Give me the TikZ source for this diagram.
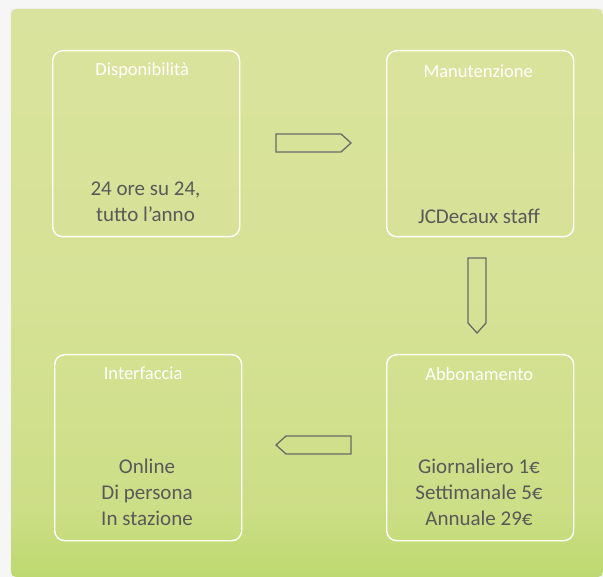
\documentclass[tikz,border=0pt]{standalone}
\usepackage{fontspec}
\setmainfont{Carlito}
\definecolor{pagebg}{RGB}{246,246,246}
\definecolor{paneltop}{RGB}{218,227,157}
\definecolor{panelmid}{RGB}{214,226,150}
\definecolor{panellow}{RGB}{204,222,134}
\definecolor{panelbot}{RGB}{190,217,112}
\definecolor{bodytext}{RGB}{89,89,89}
\definecolor{arrowline}{RGB}{105,105,105}
\pgfdeclareverticalshading{panelshade}{100bp}{%
  color(0bp)=(panelbot); color(25bp)=(panelbot); color(31bp)=(panellow); color(50bp)=(panelmid); color(75bp)=(paneltop); color(100bp)=(paneltop)}
\begin{document}
\begin{tikzpicture}[x=1pt,y=-1pt,
  card/.style={draw=white,line width=1.4pt,rounded corners=10pt,minimum width=187pt,minimum height=186pt,inner sep=0pt,anchor=north west},
  cardtitle/.style={text=white,font=\fontsize{18.5}{22}\selectfont,anchor=center},
  cardbody/.style={text=bodytext,font=\fontsize{21}{26}\selectfont,align=center,anchor=center},
  flowarrow/.style={draw=arrowline,line width=1.3pt,line join=miter}]
\useasboundingbox (0,0) rectangle (603,577);
\fill[pagebg] (0,0) rectangle (603,577);
\fill[gray!10] (10,8) rectangle (603,577);
\path[shading=panelshade,rounded corners=5pt]
  (11,9) -- (603,9) -- (603,577) -- (11,577) -- cycle;
% cards
\node[card] (disp) at (52,50) {};
\node[card] (manu) at (386,50) {};
\node[card] (inter) at (54,354) {};
\node[card] (abbo) at (386,354) {};
% titles
\node[cardtitle] (dispT) at ([xshift=-4pt,yshift=-21pt]disp.north) {Disponibilità};
\node[cardtitle] (manuT) at ([xshift=-2pt,yshift=-21pt]manu.north) {Manutenzione};
\node[cardtitle] (interT) at ([xshift=-5pt,yshift=-19pt]inter.north) {Interfaccia};
\node[cardtitle] (abboT) at ([xshift=-1pt,yshift=-20pt]abbo.north) {Abbonamento};
% bodies
\node[cardbody] (dispB) at (145.5,202) {24 ore su 24,\\tutto l’anno};
\node[cardbody] (manuB) at (479,216) {JCDecaux staff};
\node[cardbody] (interB) at (147,492) {Online\\Di persona\\In stazione};
\node[cardbody] (abboB) at (479,492) {Giornaliero 1€\\Settimanale 5€\\Annuale 29€};
% arrows
\draw[flowarrow] (276,134) -- (341,134) -- (351,143) -- (341,152) -- (276,152) -- cycle;
\draw[flowarrow] (468,258) -- (486,258) -- (486,323) -- (477,333) -- (468,323) -- cycle;
\draw[flowarrow] (351,436) -- (286,436) -- (276,445) -- (286,454) -- (351,454) -- cycle;
\end{tikzpicture}
\end{document}
